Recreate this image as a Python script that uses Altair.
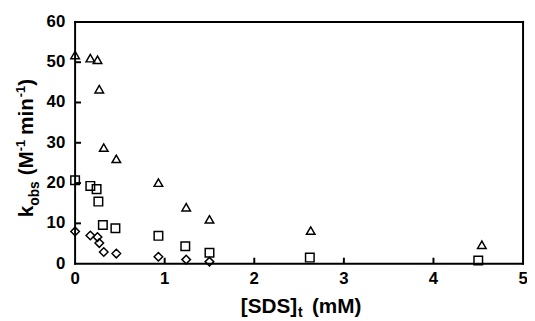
import altair as alt
import pandas as pd

# Data
tri_x = [0.0, 0.17, 0.25, 0.27, 0.32, 0.46, 0.93, 1.24, 1.50, 2.63, 4.54]
tri_y = [51.8, 51.0, 50.6, 43.3, 28.8, 26.0, 20.1, 14.0, 11.0, 8.2, 4.7]
sq_x = [0.0, 0.17, 0.24, 0.26, 0.31, 0.45, 0.93, 1.23, 1.50, 2.62, 4.50]
sq_y = [20.7, 19.3, 18.5, 15.4, 9.6, 8.8, 6.9, 4.3, 2.7, 1.5, 0.8]
dia_x = [0.0, 0.17, 0.25, 0.27, 0.32, 0.46, 0.93, 1.24, 1.50]
dia_y = [8.0, 7.0, 6.6, 5.1, 2.9, 2.5, 1.7, 1.0, 0.5]

x_labels = [0, 1, 2, 3, 4, 5]
y_labels = [0, 10, 20, 30, 40, 50, 60]
x_ticks = [1, 2, 3, 4]
y_ticks = [10, 20, 30, 40, 50]

rows = []
for name, xs, ys in [("tri", tri_x, tri_y), ("sq", sq_x, sq_y), ("dia", dia_x, dia_y)]:
    for a, b in zip(xs, ys):
        rows.append({"series": name, "sds": a, "k": b})
df = pd.DataFrame(rows)

W, H = 454, 245
FONT = "Liberation Sans"

xscale = alt.Scale(domain=[0, 5], nice=False, zero=False)
yscale = alt.Scale(domain=[0, 60], nice=False)

points = alt.Chart(df).mark_point(filled=False, color="black", strokeWidth=1.5, size=75, opacity=1).encode(
    x=alt.X("sds:Q", scale=xscale, axis=None),
    y=alt.Y("k:Q", scale=yscale, axis=None),
    shape=alt.Shape("series:N", scale=alt.Scale(domain=["tri", "sq", "dia"],
                                               range=["triangle-up", "square", "diamond"]),
                    legend=None),
)

# inward tick marks (filled tick rects)
ytick = alt.Chart(pd.DataFrame({"yt": y_ticks})).mark_tick(
    color="black", orient="horizontal", size=6, thickness=2, opacity=1).encode(
    y=alt.Y("yt:Q", scale=yscale, axis=None), x=alt.value(3))
xtick = alt.Chart(pd.DataFrame({"xt": x_ticks})).mark_tick(
    color="black", orient="vertical", size=6, thickness=2, opacity=1).encode(
    x=alt.X("xt:Q", scale=xscale, axis=None), y=alt.value(H - 3))

# frame lines as long ticks
hframe = alt.Chart(pd.DataFrame({"hf": [0, 60]})).mark_tick(
    color="black", orient="horizontal", size=W + 2, thickness=2, opacity=1).encode(
    y=alt.Y("hf:Q", scale=yscale, axis=None), x=alt.value(W / 2))
vframe = alt.Chart(pd.DataFrame({"vf": [0, 5]})).mark_tick(
    color="black", orient="vertical", size=H + 2, thickness=2, opacity=1).encode(
    x=alt.X("vf:Q", scale=xscale, axis=None), y=alt.value(H / 2))

# tick labels
xlab = alt.Chart(pd.DataFrame({"xl": x_labels})).mark_text(
    font=FONT, fontWeight="bold", fontSize=17, color="black", align="center", baseline="top").encode(
    x=alt.X("xl:Q", scale=xscale, axis=None), y=alt.value(H + 8), text=alt.Text("xl:Q", format="d"))
ylab = alt.Chart(pd.DataFrame({"yl": y_labels})).mark_text(
    font=FONT, fontWeight="bold", fontSize=17, color="black", align="right", baseline="middle").encode(
    y=alt.Y("yl:Q", scale=yscale, axis=None), x=alt.value(-10), text=alt.Text("yl:Q", format="d"))

def txt(s, x, y, size, angle=0):
    return alt.Chart(pd.DataFrame({"t": [s]})).mark_text(
        text=s, font=FONT, fontWeight="bold", fontSize=size, align="left",
        baseline="alphabetic", angle=angle, color="black").encode(
        x=alt.value(x), y=alt.value(y))

# x-axis title: [SDS]_t (mM)
xt = [txt("[SDS]", 168, 295, 21), txt("t", 226, 299, 14), txt("(mM)", 240, 295, 21)]

# y-axis title: k_obs (M^-1 min^-1), rotated
bx, sub, sup = -43, -37, -51
yt = [
    txt("k", bx, 198, 21, 270),
    txt("obs", sub, 186.3, 14, 270),
    txt("(M", bx, 155.5, 21, 270),
    txt("-1", sup, 131.1, 13, 270),
    txt("min", bx, 114.5, 21, 270),
    txt("-1", sup, 76.3, 13, 270),
    txt(")", bx, 64.7, 21, 270),
]

chart = alt.layer(hframe, vframe, ytick, xtick, points, xlab, ylab, *xt, *yt).properties(
    width=W, height=H,
    autosize=alt.AutoSizeParams(type="none"),
    padding={"left": 68, "top": 12, "right": 4, "bottom": 54},
).configure(background="white").configure_view(strokeWidth=0)

chart.save("out.html", embed_options={"renderer": "svg", "actions": False})
